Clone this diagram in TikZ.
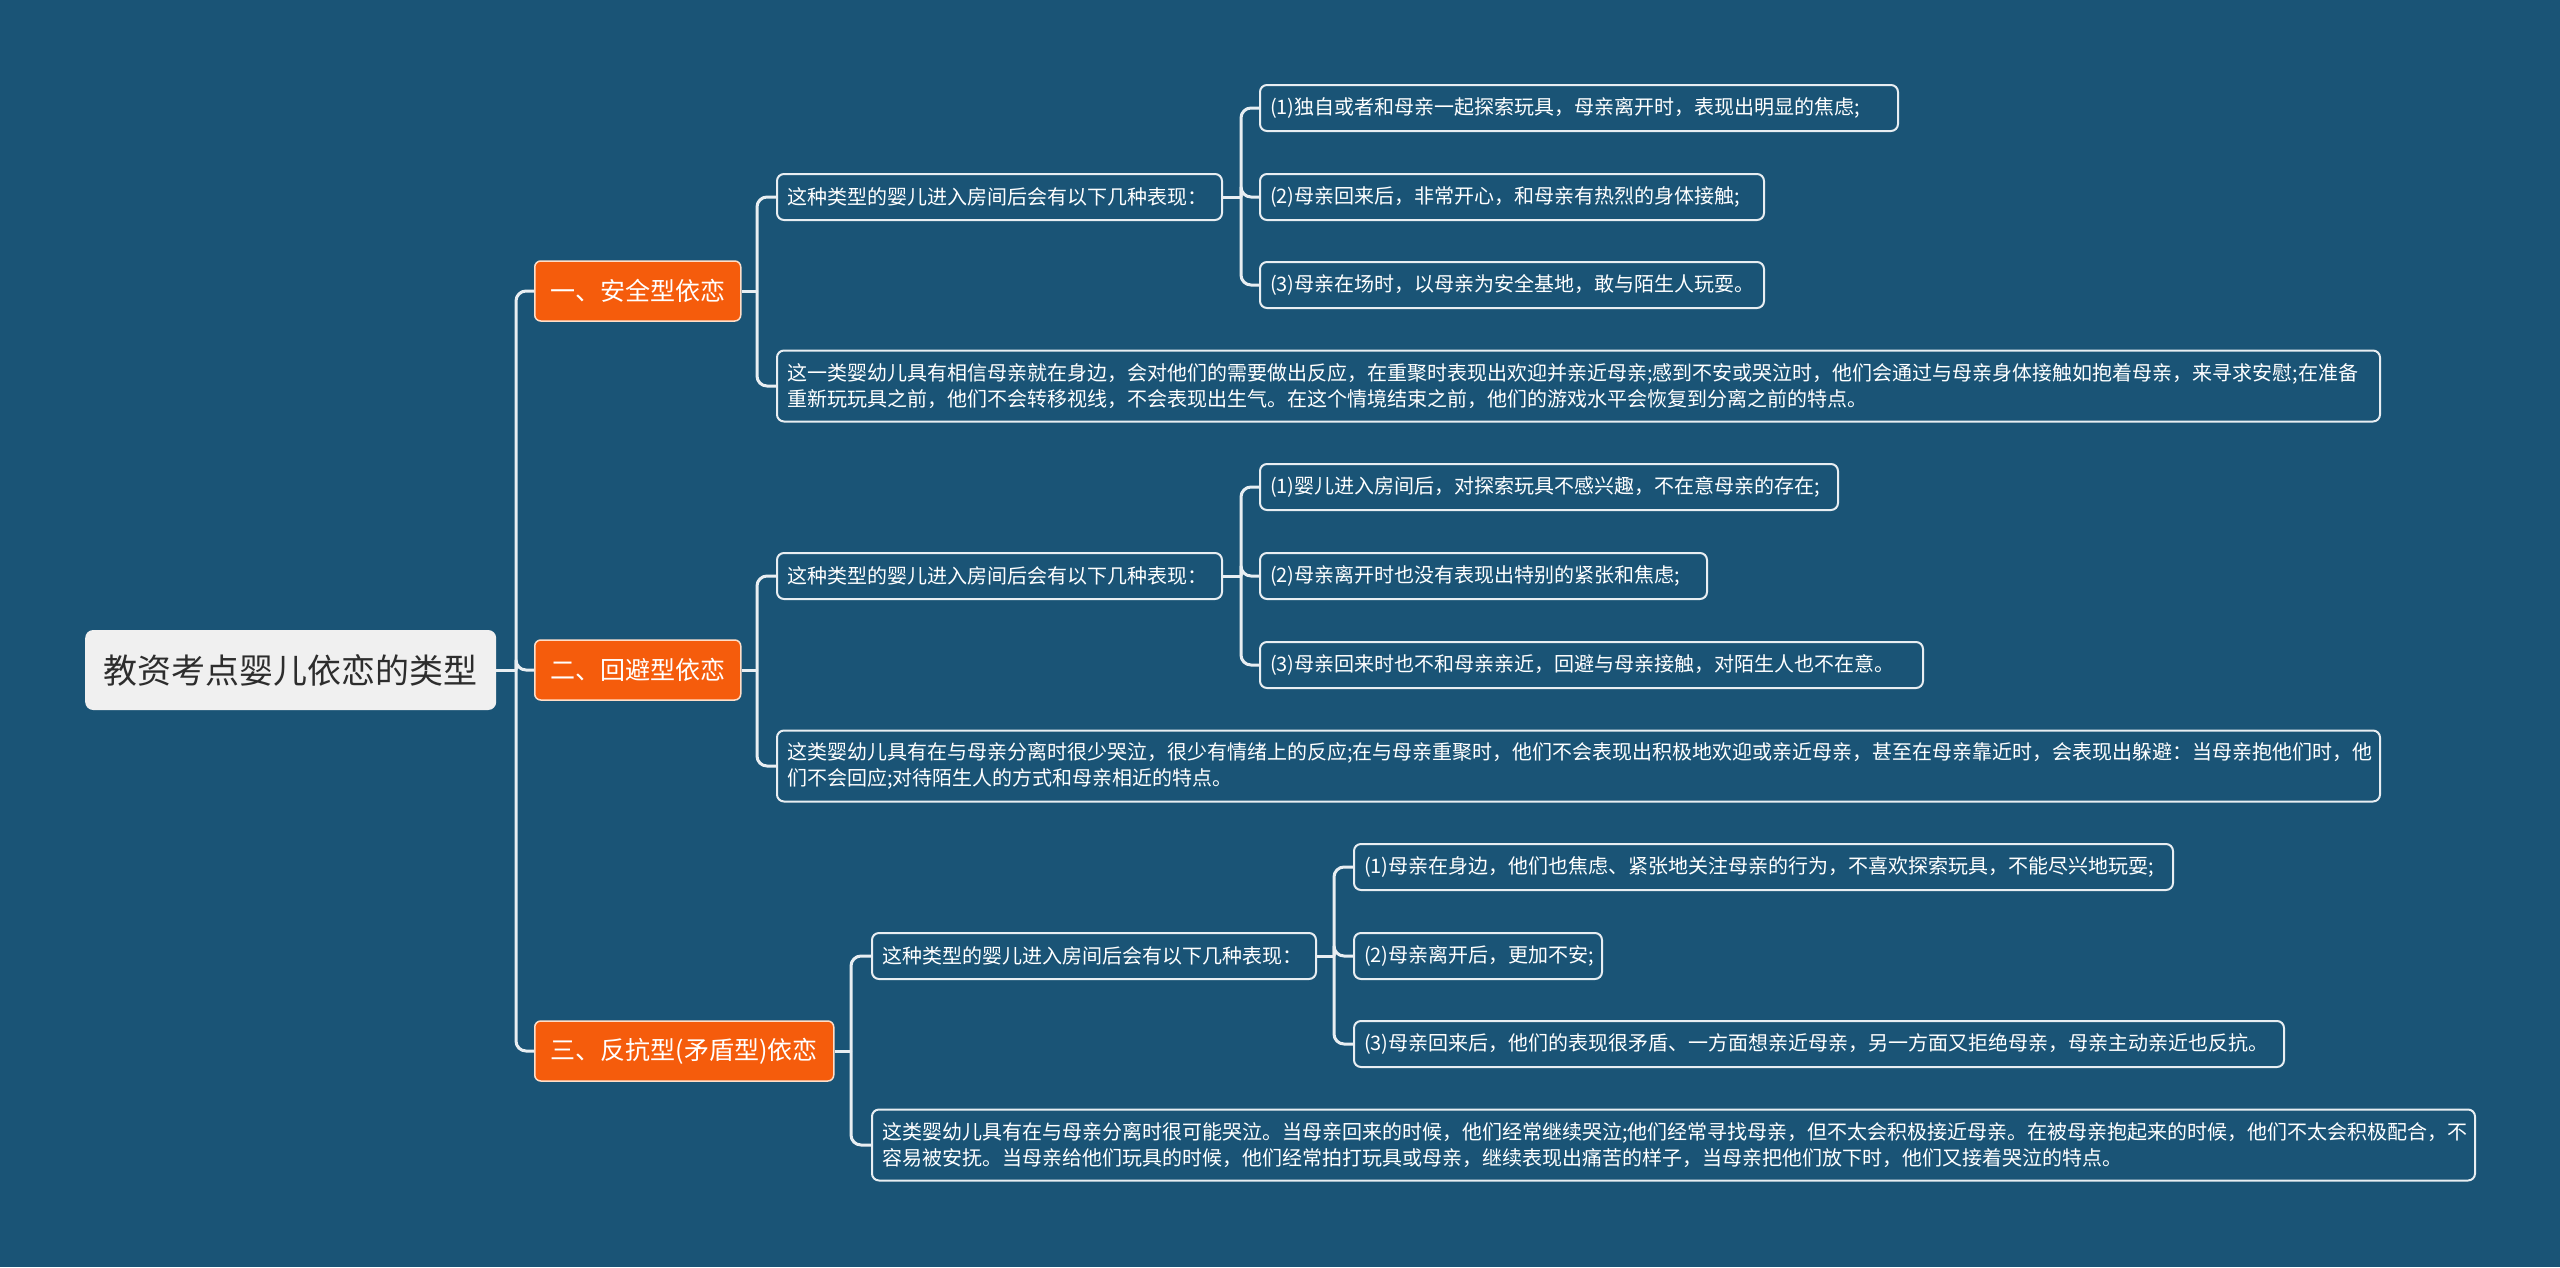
\documentclass[tikz,border=0pt]{standalone}
\usepackage{fontspec}
\setmainfont{Noto Sans CJK SC}
\definecolor{bg}{RGB}{26,84,118}
\definecolor{org}{RGB}{245,92,12}
\definecolor{orgline}{RGB}{255,222,200}
\definecolor{ln}{RGB}{232,238,242}
\definecolor{rootfill}{RGB}{240,240,240}
\definecolor{roottext}{RGB}{45,45,45}
\begin{document}
\begin{tikzpicture}[x=1pt,y=-1pt,
 conn/.style={draw=ln, line width=3pt, rounded corners=10pt},
 rootbox/.style={fill=rootfill, rounded corners=8pt, text=roottext, font=\fontsize{34}{40}\selectfont, minimum width=411pt, minimum height=80pt, inner sep=0pt, anchor=west},
 lone/.style={fill=org, draw=orgline, line width=1.5pt, rounded corners=6pt, text=white, font=\fontsize{25}{30}\selectfont, minimum height=60pt, inner sep=0pt, anchor=west},
 box/.style={fill=bg, draw=ln, line width=2pt, rounded corners=7pt, text=white, font=\fontsize{20}{26}\selectfont, minimum height=46pt, inner xsep=10pt, inner ysep=0pt, align=left, anchor=west},
 longbox/.style={box, minimum height=71pt, text width=1583pt}
]
\fill[bg] (0,0) rectangle (2560,1267);
\useasboundingbox (0,0) rectangle (2560,1267);

% root and level 1
\node[rootbox] (root) at (85,670) {教资考点婴儿依恋的类型};
\node[lone, minimum width=206pt] (a) at (534,291) {一、安全型依恋};
\node[lone, minimum width=206pt] (b) at (534,670) {二、回避型依恋};
\node[lone, minimum width=299pt] (c) at (534,1051) {三、反抗型(矛盾型)依恋};

% group a
\node[box, text width=425pt] (a0) at (776,197) {这种类型的婴儿进入房间后会有以下几种表现：};
\node[box, text width=618pt] (a1) at (1259,108) {(1)独自或者和母亲一起探索玩具，母亲离开时，表现出明显的焦虑;};
\node[box, text width=484pt] (a2) at (1259,197) {(2)母亲回来后，非常开心，和母亲有热烈的身体接触;};
\node[box, text width=484pt] (a3) at (1259,285) {(3)母亲在场时，以母亲为安全基地，敢与陌生人玩耍。};
\node[longbox] (a4) at (776,386) {这一类婴幼儿具有相信母亲就在身边，会对他们的需要做出反应，在重聚时表现出欢迎并亲近母亲;感到不安或哭泣时，他们会通过与母亲身体接触如抱着母亲，来寻求安慰;在准备\\重新玩玩具之前，他们不会转移视线，不会表现出生气。在这个情境结束之前，他们的游戏水平会恢复到分离之前的特点。};

% group b
\node[box, text width=425pt] (b0) at (776,576) {这种类型的婴儿进入房间后会有以下几种表现：};
\node[box, text width=558pt] (b1) at (1259,487) {(1)婴儿进入房间后，对探索玩具不感兴趣，不在意母亲的存在;};
\node[box, text width=427pt] (b2) at (1259,576) {(2)母亲离开时也没有表现出特别的紧张和焦虑;};
\node[box, text width=643pt] (b3) at (1259,665) {(3)母亲回来时也不和母亲亲近，回避与母亲接触，对陌生人也不在意。};
\node[longbox] (b4) at (776,766) {这类婴幼儿具有在与母亲分离时很少哭泣，很少有情绪上的反应;在与母亲重聚时，他们不会表现出积极地欢迎或亲近母亲，甚至在母亲靠近时，会表现出躲避：当母亲抱他们时，他\\们不会回应;对待陌生人的方式和母亲相近的特点。};

% group c
\node[box, text width=424pt] (c0) at (871,956) {这种类型的婴儿进入房间后会有以下几种表现：};
\node[box, text width=799pt] (c1) at (1353,867) {(1)母亲在身边，他们也焦虑、紧张地关注母亲的行为，不喜欢探索玩具，不能尽兴地玩耍;};
\node[box, text width=228pt] (c2) at (1353,956) {(2)母亲离开后，更加不安;};
\node[box, text width=910pt] (c3) at (1353,1044) {(3)母亲回来后，他们的表现很矛盾、一方面想亲近母亲，另一方面又拒绝母亲，母亲主动亲近也反抗。};
\node[longbox] (c4) at (871,1145) {这类婴幼儿具有在与母亲分离时很可能哭泣。当母亲回来的时候，他们经常继续哭泣;他们经常寻找母亲，但不太会积极接近母亲。在被母亲抱起来的时候，他们不太会积极配合，不\\容易被安抚。当母亲给他们玩具的时候，他们经常拍打玩具或母亲，继续表现出痛苦的样子，当母亲把他们放下时，他们又接着哭泣的特点。};

% connectors
\coordinate (r0) at (516,670);
\draw[conn] (root.east) -- (r0);
\foreach \n in {a,b,c} \draw[conn] (r0) |- (\n.west);

\coordinate (ja) at (757,291);
\draw[conn] (a.east) -- (ja);
\foreach \n in {a0,a4} \draw[conn] (ja) |- (\n.west);
\coordinate (ja0) at (1241,197);
\draw[conn] (a0.east) -- (ja0);
\foreach \n in {a1,a2,a3} \draw[conn] (ja0) |- (\n.west);

\coordinate (jb) at (757,670);
\draw[conn] (b.east) -- (jb);
\foreach \n in {b0,b4} \draw[conn] (jb) |- (\n.west);
\coordinate (jb0) at (1241,576);
\draw[conn] (b0.east) -- (jb0);
\foreach \n in {b1,b2,b3} \draw[conn] (jb0) |- (\n.west);

\coordinate (jc) at (851,1051);
\draw[conn] (c.east) -- (jc);
\foreach \n in {c0,c4} \draw[conn] (jc) |- (\n.west);
\coordinate (jc0) at (1334,956);
\draw[conn] (c0.east) -- (jc0);
\foreach \n in {c1,c2,c3} \draw[conn] (jc0) |- (\n.west);
\end{tikzpicture}
\end{document}
